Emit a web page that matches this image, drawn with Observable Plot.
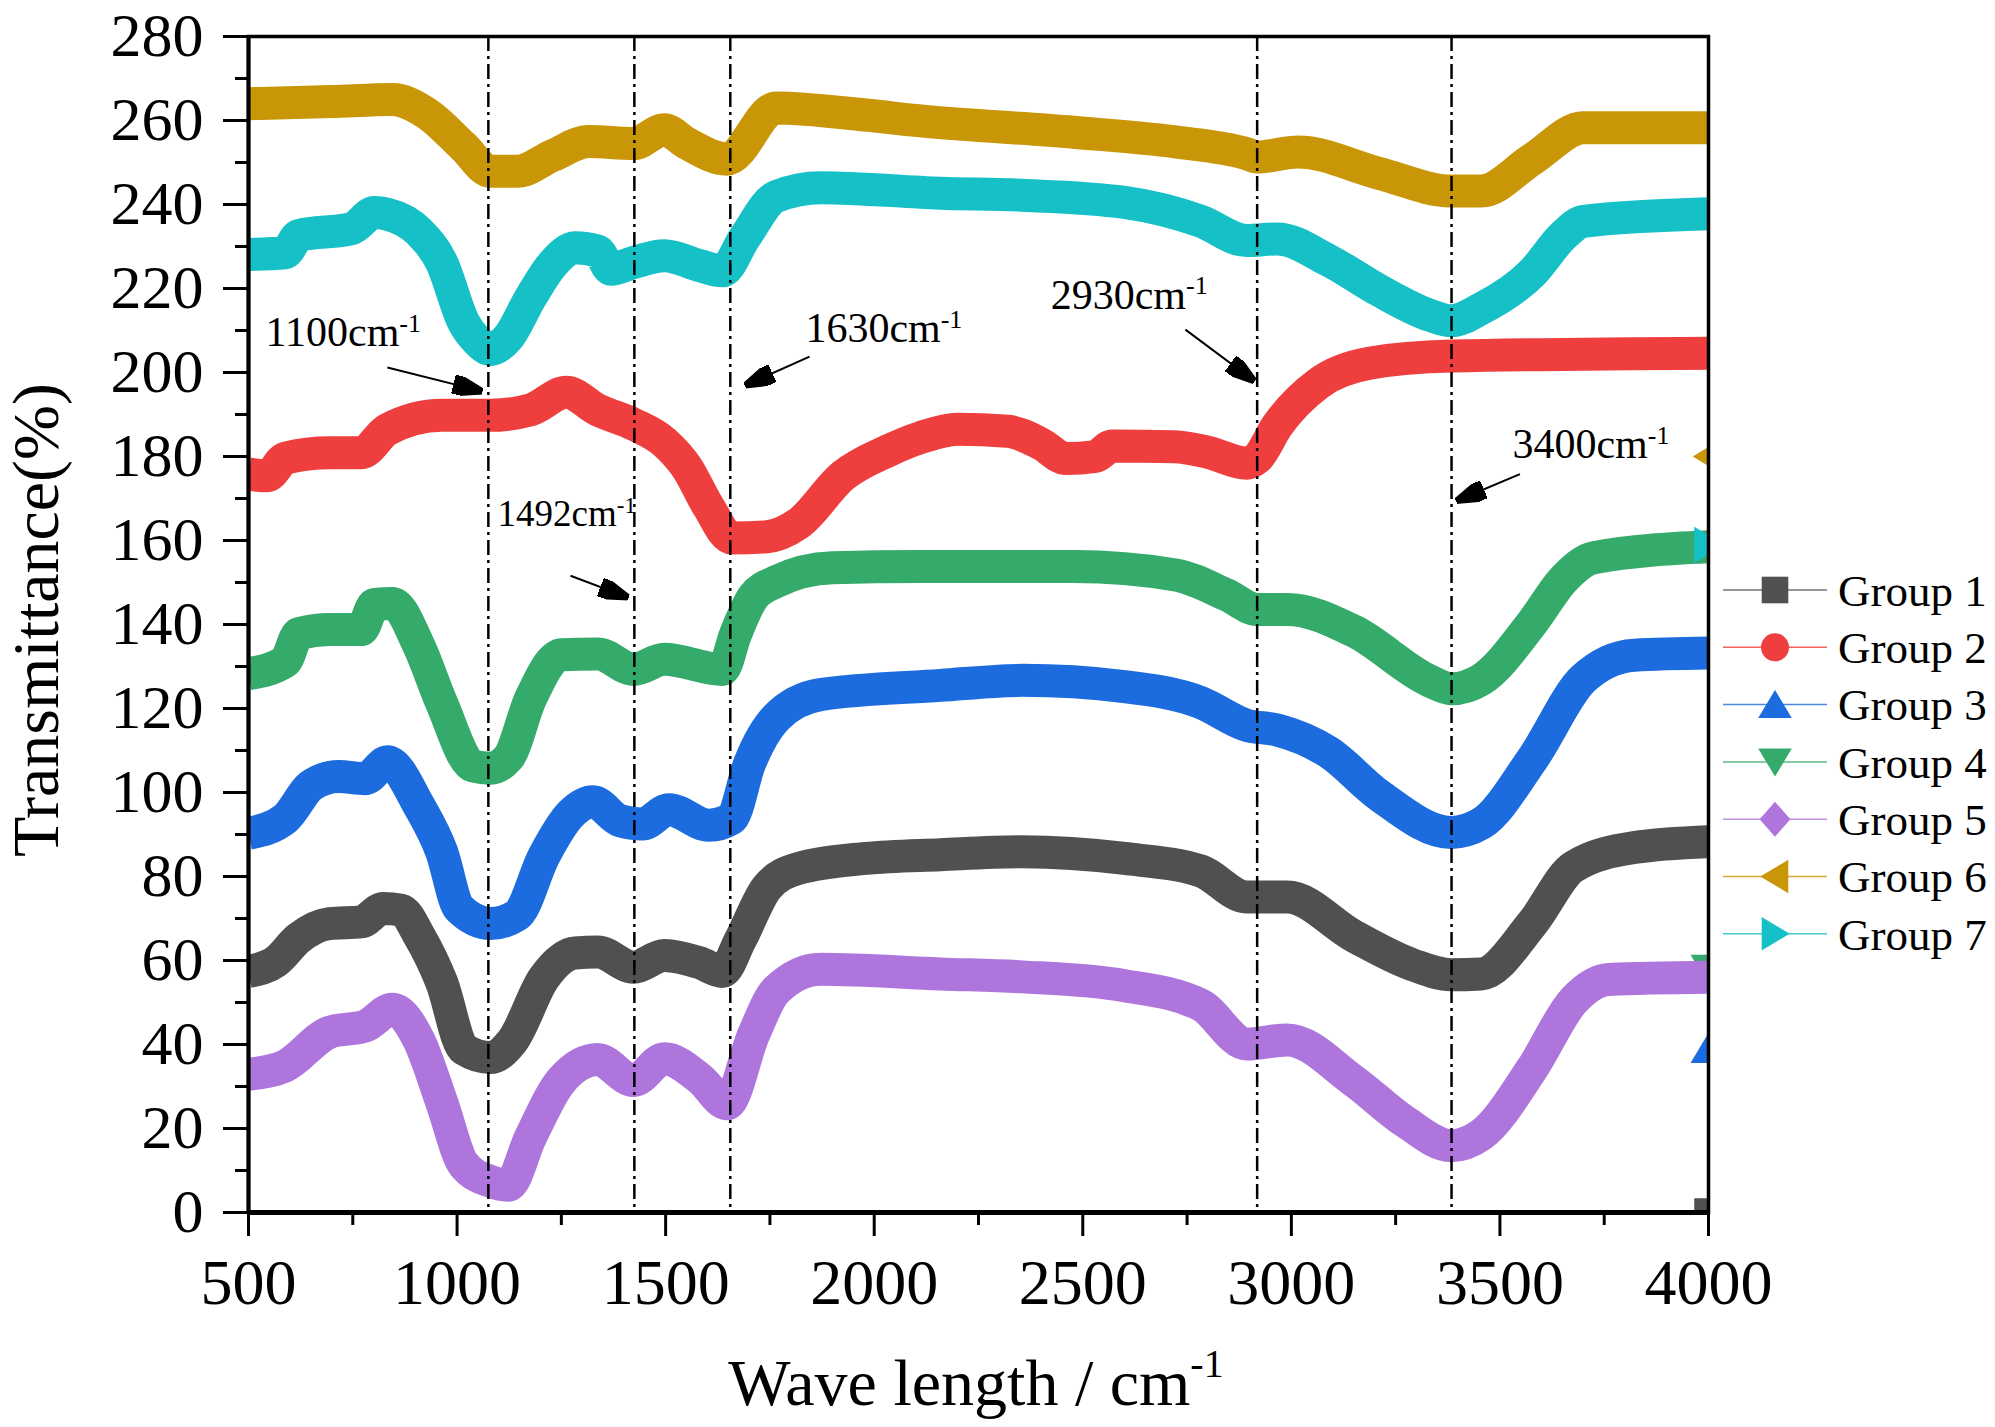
<!DOCTYPE html>
<html><head><meta charset="utf-8">
<script src="https://cdn.jsdelivr.net/npm/d3@7"></script>
<script src="https://cdn.jsdelivr.net/npm/@observablehq/plot@0.6"></script>
<style>
html,body{margin:0;padding:0;background:#fff;overflow:hidden}
#chart{position:relative;width:1995px;height:1427px}
#chart svg{display:block}
</style></head><body><div id="chart"></div>
<script>
// ---------- data ----------
const groups = ["Group 1","Group 2","Group 3","Group 4","Group 5","Group 6","Group 7"];
const colors = ["#505050","#EE3E3E","#1C6BDF","#35AB6B","#AE76DD","#C99608","#16C0C7"];

const group1 = [[500,57.4],[566,59.8],[620,65.3],[694,68.8],[770,69.2],[823,72.4],[866,72.0],[909,65.9],[963,54.8],[1016,38.9],[1080,36.9],[1133,40.9],[1208,55.8],[1283,61.8],[1337,62.0],[1423,58.4],[1497,61.2],[1580,59.5],[1636,57.4],[1679,64.9],[1743,77.4],[1818,81.9],[1979,84.3],[2159,85.2],[2355,85.9],[2600,84.3],[2783,81.3],[2893,75.1],[2990,75.1],[3150,65.8],[3290,59.0],[3383,56.6],[3455,56.8],[3578,68.9],[3676,82.3],[3822,86.9],[4000,88.3]];
const group2 = [[500,175.8],[545,175.4],[588,179.6],[694,180.9],[770,180.9],[833,186.4],[963,189.8],[1080,189.8],[1176,191.1],[1262,195.3],[1337,191.1],[1423,187.7],[1497,183.4],[1550,177.5],[1604,167.8],[1658,160.6],[1743,160.9],[1818,164.0],[1925,175.4],[2032,181.3],[2111,184.5],[2200,186.5],[2320,186.0],[2400,183.0],[2460,179.5],[2530,180.0],[2570,182.5],[2720,182.3],[2800,181.0],[2893,178.4],[2918,179.6],[2966,187.3],[3065,197.4],[3187,202.2],[3383,203.9],[4000,204.6]];
const group3 = [[500,90.3],[588,93.8],[652,101.8],[716,103.8],[780,103.3],[833,107.3],[909,96.8],[963,85.9],[1005,72.4],[1080,68.8],[1144,70.8],[1208,84.8],[1272,94.8],[1326,97.8],[1390,93.3],[1444,92.5],[1508,95.9],[1604,92.2],[1658,93.8],[1701,106.8],[1765,117.8],[1871,123.3],[2159,125.5],[2355,126.7],[2600,125.2],[2783,121.4],[2893,116.0],[2966,114.9],[3089,109.6],[3211,99.3],[3383,90.5],[3455,92.6],[3578,108.0],[3700,127.1],[3822,132.7],[4000,133.2]];
const group4 = [[500,128.3],[588,131.2],[620,137.8],[694,138.8],[770,138.8],[802,144.8],[845,145.0],[909,134.8],[963,121.3],[1038,106.3],[1080,105.8],[1123,108.3],[1176,122.3],[1250,132.8],[1337,133.0],[1423,129.3],[1497,131.7],[1636,129.3],[1668,137.8],[1711,146.7],[1765,150.2],[1900,153.5],[2111,153.8],[2478,153.8],[2722,151.8],[2844,147.1],[2918,143.6],[2990,143.6],[3150,138.4],[3333,126.5],[3383,124.7],[3455,126.9],[3578,140.5],[3652,150.7],[3725,155.9],[4000,158.5]];
const group5 = [[500,32.9],[588,34.9],[694,42.9],[780,44.4],[845,48.4],[909,40.9],[963,26.3],[1016,11.4],[1080,7.4],[1123,6.5],[1176,17.9],[1250,31.4],[1337,36.4],[1423,31.4],[1497,36.6],[1583,31.8],[1647,25.9],[1711,42.4],[1765,52.9],[1871,57.9],[2159,56.8],[2355,56.1],[2600,54.0],[2783,49.4],[2893,40.1],[2990,41.1],[3150,31.3],[3273,21.6],[3383,15.9],[3455,18.5],[3578,34.4],[3676,50.4],[3761,55.5],[4000,56.0]];
const group6 = [[500,264.0],[700,264.5],[845,265.0],[930,261.5],[1015,253.8],[1080,247.9],[1144,247.9],[1230,251.7],[1315,255.0],[1423,254.5],[1497,257.8],[1550,254.6],[1647,250.8],[1765,263.0],[1979,261.3],[2111,259.9],[2478,257.2],[2722,254.9],[2893,252.1],[2918,251.3],[3016,252.5],[3211,247.4],[3383,243.2],[3455,243.2],[3578,250.8],[3700,258.3],[4000,258.3]];
const group7 = [[500,228.1],[588,228.5],[620,232.6],[748,234.3],[802,238.1],[833,237.7],[909,233.5],[963,226.2],[1016,211.9],[1048,207.6],[1080,205.5],[1123,208.4],[1176,217.8],[1230,225.9],[1283,229.7],[1337,228.9],[1369,224.6],[1423,226.2],[1497,227.8],[1583,225.4],[1636,224.2],[1690,232.2],[1765,241.9],[1871,244.0],[2159,242.7],[2355,242.2],[2600,240.5],[2783,236.0],[2893,231.4],[2966,231.8],[3089,226.7],[3211,219.5],[3333,213.6],[3383,212.3],[3455,215.2],[3578,223.8],[3652,232.6],[3700,236.0],[4000,237.8]];
const seriesList = [group1, group2, group3, group4, group5, group6, group7];

// peak marker lines and annotations
const peakWaves = [1075, 1425, 1655, 2918, 3384];
const peakLabels = ["1100cm", "1492cm", "1630cm", "2930cm", "3400cm"];
const labelWave = [541, 1097, 1835, 2423, 3530];
const labelT = [206.2, 163.5, 207.2, 215.2, 179.6];
const arrowWave1 = [833, 1272, 1845, 2746, 3548];
const arrowT1 = [201.2, 151.6, 203.8, 210.2, 175.8];
const arrowWave2 = [1061, 1411, 1690, 2912, 3395];
const arrowT2 = [195.5, 146.4, 196.9, 197.9, 169.4];

// stray markers drawn at the right edge
const edgeGroups = ["Group 1", "Group 3", "Group 4", "Group 6", "Group 7"];
const edgeWave = [4000, 4000, 4000, 4000, 4000];
const edgeT = [0, 39, 58, 180, 159];

// ticks
const xTicks = [500, 1000, 1500, 2000, 2500, 3000, 3500, 4000];
const xMinor = [750, 1250, 1750, 2250, 2750, 3250, 3750];
const yTicks = [0, 20, 40, 60, 80, 100, 120, 140, 160, 180, 200, 220, 240, 260, 280];
const yMinor = [10, 30, 50, 70, 90, 110, 130, 150, 170, 190, 210, 230, 250, 270];

// ---------- symbols ----------
function poly(pts) {
  return { draw(ctx, size) {
    const r = Math.sqrt(size / Math.PI);
    ctx.moveTo(pts[0][0] * r, pts[0][1] * r);
    for (let i = 1; i < pts.length; ++i) ctx.lineTo(pts[i][0] * r, pts[i][1] * r);
    ctx.closePath();
  }};
}
const symSquare = poly([[-0.95,-0.95],[0.95,-0.95],[0.95,0.95],[-0.95,0.95]]);
const symCircle = { draw(ctx, size) { const r = Math.sqrt(size / Math.PI); ctx.moveTo(r, 0); ctx.arc(0, 0, r, 0, 2 * Math.PI); } };
const symUp = poly([[0,-1.05],[1.2,0.95],[-1.2,0.95]]);
const symDown = poly([[0,1.05],[1.2,-0.95],[-1.2,-0.95]]);
const symDiamond = poly([[0,-1.25],[1.1,0],[0,1.25],[-1.1,0]]);
const symLeft = poly([[-1.05,0],[0.95,-1.2],[0.95,1.2]]);
const symRight = poly([[1.05,0],[-0.95,-1.2],[-0.95,1.2]]);
const symbols = [symSquare, symCircle, symUp, symDown, symDiamond, symLeft, symRight];

// ---------- build tables ----------
const seriesTables = seriesList.map((s, i) => s.map(([w, t]) => ({group: groups[i], wave: w, t})));
const peaks = peakWaves.map((w) => ({w}));
const ann = peakLabels.map((l, i) => ({label: l, w: labelWave[i], t: labelT[i]}));
const arrows = arrowWave1.map((w, i) => ({x1: w, y1: arrowT1[i], x2: arrowWave2[i], y2: arrowT2[i]}));
const edges = edgeGroups.map((g, i) => ({group: g, w: edgeWave[i], t: edgeT[i]}));

function filledHead(color, context) {
  const ns = "http://www.w3.org/2000/svg";
  const doc = (context && context.document) || document;
  const m = doc.createElementNS(ns, "marker");
  m.setAttribute("viewBox", "-10 -3.2 10 6.4");
  m.setAttribute("markerWidth", 30);
  m.setAttribute("markerHeight", 19.2);
  m.setAttribute("markerUnits", "userSpaceOnUse");
  m.setAttribute("refX", 0);
  m.setAttribute("refY", 0);
  m.setAttribute("orient", "auto");
  const p = doc.createElementNS(ns, "path");
  p.setAttribute("d", "M-10,-3.2L0,0L-10,3.2Z");
  p.setAttribute("fill", "black");
  m.appendChild(p);
  return m;
}

const FONT = "Liberation Serif, Times New Roman, serif";

function seriesMarks() {
  const out = [];
  groups.forEach((g, i) => {
    out.push(Plot.line(seriesTables[i], {x: "wave", y: "t", stroke: colors[i], strokeWidth: 33,
      strokeLinejoin: "round", strokeLinecap: "butt", curve: "monotone-x", clip: true}));
    edges.filter((e) => e.group === g).forEach((e) => {
      out.push(Plot.dot([e], {x: "w", y: "t", r: 15, fill: colors[i], symbol: symbols[i], clip: true}));
    });
  });
  return out;
}

function build(markerEnd) {
  return Plot.plot({
    width: 1995, height: 1427,
    marginLeft: 248, marginRight: 287, marginTop: 36, marginBottom: 215,
    style: {fontFamily: FONT, background: "white", color: "black"},
    x: {domain: [500, 4000]},
    y: {domain: [0, 280]},
    marks: [
      ...seriesMarks(),
      Plot.ruleX(peaks, {x: "w", stroke: "black", strokeWidth: 2.5, strokeDasharray: "15,5,3,5"}),
      Plot.link(arrows, {x1: "x1", y1: "y1", x2: "x2", y2: "y2", stroke: "black", strokeWidth: 2, markerEnd}),
      Plot.text(ann.filter((d) => d.label !== "1492cm"), {x: "w", y: "t", text: "label", textAnchor: "start",
        lineAnchor: "bottom", fontSize: 42, fill: "black"}),
      Plot.text(ann.filter((d) => d.label === "1492cm"), {x: "w", y: "t", text: "label", textAnchor: "start",
        lineAnchor: "bottom", fontSize: 37, fill: "black"}),
      Plot.frame({stroke: "black", strokeWidth: 3.5}),
      Plot.ruleY([0], {stroke: "black", strokeWidth: 5}),
      Plot.ruleX([500], {stroke: "black", strokeWidth: 4}),
      Plot.axisY(yTicks, {tickSize: 25, tickPadding: 20, fontSize: 62, strokeWidth: 3, tickFormat: (d) => String(d), label: null}),
      Plot.axisY(yMinor, {tickSize: 13, strokeWidth: 3, tickFormat: () => "", label: null}),
      Plot.axisX(xTicks, {tickSize: 24, tickPadding: 22, fontSize: 64, strokeWidth: 3, tickFormat: (d) => String(d), label: null}),
      Plot.axisX(xMinor, {tickSize: 13, strokeWidth: 3, tickFormat: () => "", label: null})
    ]
  });
}

let plot;
try { plot = build(filledHead); } catch (e) { console.error(e); plot = build("arrow"); }
document.getElementById("chart").appendChild(plot);

const svg = d3.select(plot);
// superscripts on annotation labels
svg.selectAll('g[aria-label="text"] text').each(function () {
  if (this.textContent.endsWith("cm")) {
    d3.select(this).append("tspan").attr("dy", "-0.55em").attr("font-size", "0.62em").text("-1");
  }
});

// axis titles
const xt = svg.append("text").attr("x", 976).attr("y", 1405).attr("text-anchor", "middle")
  .attr("font-family", FONT).attr("font-size", 66).attr("fill", "black").text("Wave length / cm");
xt.append("tspan").attr("dy", -28).attr("font-size", 40).text("-1");
svg.append("text").attr("transform", "translate(58,620) rotate(-90)").attr("text-anchor", "middle")
  .attr("font-family", FONT).attr("font-size", 66).attr("fill", "black").text("Transmittance(%)");

// legend
const lg = svg.append("g").attr("font-family", FONT).attr("text-anchor", "start");
groups.forEach((g, i) => {
  const cy = 590 + i * 57.3;
  lg.append("line").attr("x1", 1723).attr("x2", 1827).attr("y1", cy).attr("y2", cy)
    .attr("stroke", colors[i]).attr("stroke-width", 1.5).attr("opacity", 0.8);
  lg.append("path").attr("transform", `translate(1775,${cy})`)
    .attr("d", d3.symbol(symbols[i], Math.PI * 14 * 14)()).attr("fill", colors[i]);
  lg.append("text").attr("x", 1838).attr("y", cy).attr("dy", "0.35em").attr("font-size", 45)
    .attr("text-anchor", "start").attr("fill", "black").text(g);
});
</script></body></html>
